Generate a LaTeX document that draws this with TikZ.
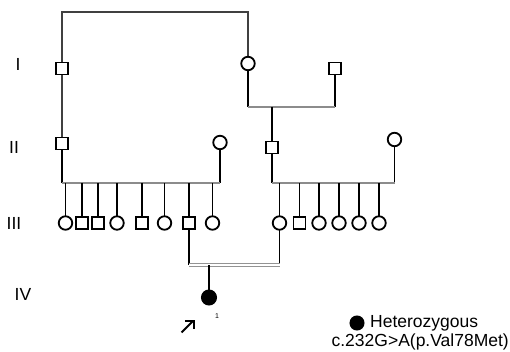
\documentclass[tikz,border=0pt]{standalone}
\usepackage{fontspec}
\setmainfont{Liberation Sans}
\usetikzlibrary{arrows.meta}
\begin{document}
\begin{tikzpicture}[x=1pt,y=-1pt,
  male/.style={draw=black,fill=white,line width=1.8pt,minimum size=12pt,inner sep=0pt,rectangle},
  female/.style={draw=black,fill=white,line width=1.8pt,minimum size=13.5pt,inner sep=0pt,circle},
  affected/.style={draw=black,fill=black,line width=1pt,minimum size=15pt,inner sep=0pt,circle},
  vline/.style={draw=black,line width=1.9pt},
  hline/.style={draw=gray!90,line width=2pt},
  topline/.style={draw=black!75,line width=2pt},
  dline/.style={draw=gray!85,double=white,double distance=1.3pt,line width=1.3pt},
  gen/.style={font=\fontsize{17.5}{20}\selectfont,inner sep=0pt},
  legend/.style={font=\fontsize{17.5}{20}\selectfont,inner sep=0pt}]
\useasboundingbox (0,0) rectangle (510,352);
% generation labels
\node[gen] (gI) at (18,64) {I};
\node[gen] (gII) at (14,147) {II};
\node[gen] (gIII) at (14,223) {III};
\node[gen] (gIV) at (23,294) {IV};
% coordinates
\coordinate (tl) at (62,12.5);
\coordinate (tr) at (248,12.5);
\coordinate (m1l) at (248,107);
\coordinate (m1r) at (335,107);
\coordinate (m1c) at (272,107);
\coordinate (s1l) at (62,183);
\coordinate (s1r) at (220,183);
\coordinate (s2l) at (272,183);
\coordinate (s2r) at (394.5,183);
\coordinate (m3l) at (189,265);
\coordinate (m3r) at (279.5,265);
\coordinate (m3c) at (209,265);
% lines (drawn first)
\draw[topline] (62,143) -- (tl) -- (tr) -- (248,63);
\draw[vline] (248,63) -- (m1l);
\draw[vline] (335,68) -- (m1r);
\draw[hline] (m1l) -- (m1r);
\draw[vline] (m1c) -- (272,147);
\draw[vline] (62,143) -- (s1l);
\draw[vline] (220,142.5) -- (s1r);
\draw[hline] (s1l) -- (s1r);
\draw[vline] (272,147) -- (s2l);
\draw[vline] (394.5,139.5) -- (s2r);
\draw[hline] (s2l) -- (s2r);
\foreach \x in {65.5,82,97.7,117,141.7,164.5,189,212.5}
  \draw[vline] (\x,183) -- (\x,223);
\foreach \x in {279.5,299.5,319,339,359,379}
  \draw[vline] (\x,183) -- (\x,223);
\draw[vline] (189,223) -- (m3l);
\draw[vline] (279.5,223) -- (m3r);
\draw[dline] (m3l) -- (m3r);
\draw[vline] (m3c) -- (209,297.5);
% generation I
\node[male] (I1) at (62,68.5) {};
\node[female] (I2) at (248,63.5) {};
\node[male] (I3) at (335,68.5) {};
% generation II
\node[male] (II1) at (62,143.5) {};
\node[female] (II2) at (220,142.5) {};
\node[male] (II3) at (272,147.5) {};
\node[female] (II4) at (394.5,139.5) {};
% generation III
\node[female] (III1) at (65.5,223) {};
\node[male] (III2) at (82,223) {};
\node[male] (III3) at (97.7,223) {};
\node[female] (III4) at (117,223) {};
\node[male] (III5) at (141.7,223) {};
\node[female] (III6) at (164.5,223) {};
\node[male] (III7) at (189,223) {};
\node[female] (III8) at (212.5,223) {};
\node[female] (III9) at (279.5,223) {};
\node[male] (III10) at (299.5,223) {};
\node[female] (III11) at (319,223) {};
\node[female] (III12) at (339,223) {};
\node[female] (III13) at (359,223) {};
\node[female] (III14) at (379,223) {};
% generation IV
\node[affected] (IV1) at (209,297.5) {};
\node[font=\fontsize{7}{8}\selectfont,inner sep=0pt] (n1) at (217,316) {1};
\coordinate (pa) at (181.5,332.5);
\coordinate (pb) at (194.5,319.5);
\draw[line width=2pt,-{Straight Barb[length=6pt,width=12pt,line width=2pt]}] (pa) -- (pb);
% legend
\node[affected,minimum size=14pt] (lg) at (357,323) {};
\node[legend,anchor=west] (lt1) at (370,323) {Heterozygous};
\node[legend,anchor=east] (lt2) at (509,342) {c.232G>A(p.Val78Met)};
\end{tikzpicture}
\end{document}
